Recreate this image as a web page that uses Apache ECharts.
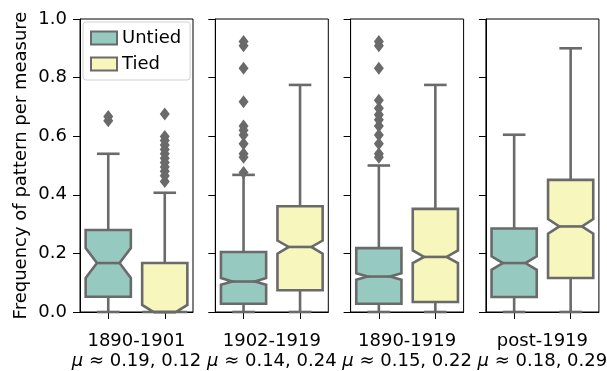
<!DOCTYPE html>
<html>
<head>
<meta charset="utf-8">
<script src="https://cdn.jsdelivr.net/npm/echarts@6/dist/echarts.min.js"></script>
<style>
  html, body { margin: 0; padding: 0; background: #fff; }
  #chart { width: 607px; height: 371px; }
</style>
</head>
<body>
<div id="chart"></div>
<script>
// Periods shown in each panel and the mean frequencies quoted below them
const periods = ['1890-1901', '1902-1919', '1890-1919', 'post-1919'];
const groups = ['Untied', 'Tied'];
const muUntied = ['0.19', '0.14', '0.15', '0.18'];
const muTied = ['0.12', '0.24', '0.22', '0.29'];

// Box statistics per period:
// [lower whisker, Q1, notch low, median, notch high, Q3, upper whisker]
const untiedStats = [
  [0, 0.052, 0.116, 0.167, 0.218, 0.280, 0.540],
  [0, 0.028, 0.093, 0.104, 0.116, 0.205, 0.468],
  [0, 0.028, 0.110, 0.121, 0.132, 0.218, 0.500],
  [0, 0.051, 0.144, 0.167, 0.190, 0.285, 0.605]
];
const tiedStats = [
  [0, 0.000, -0.024, 0.000, 0.024, 0.167, 0.407],
  [0, 0.074, 0.199, 0.222, 0.244, 0.361, 0.775],
  [0, 0.034, 0.167, 0.188, 0.210, 0.352, 0.775],
  [0, 0.116, 0.267, 0.292, 0.317, 0.451, 0.900]
];

// Outlying measures beyond the whiskers
const untiedOutliers = [
  [0.667, 0.653],
  [0.923, 0.909, 0.832, 0.718, 0.635, 0.620, 0.604, 0.574, 0.540, 0.528, 0.476],
  [0.923, 0.909, 0.832, 0.723, 0.695, 0.673, 0.656, 0.635, 0.604, 0.574, 0.540, 0.528],
  []
];
const tiedOutliers = [
  [0.676, 0.599, 0.585, 0.570, 0.555, 0.540, 0.525, 0.510, 0.495, 0.480, 0.465, 0.445],
  [],
  [],
  []
];

const yTicks = [0, 0.2, 0.4, 0.6, 0.8, 1.0];

const COLOR_UNTIED = '#96cac1';
const COLOR_TIED = '#f6f6bd';
const GRAY = '#6a6a6a';
const LW = 2.6;
const FONT = 'DejaVu Sans';

const PANEL_LEFT = 80, PANEL_STEP = 135.3, PANEL_W = 113, PANEL_TOP = 19, PANEL_H = 293;

// Notched box drawn in data space through the axis scales
function makeRenderer(fill) {
  return function (params, api) {
    const cat = api.value(0);
    const wLo = api.value(1), q1 = api.value(2), nLo = api.value(3), med = api.value(4),
          nHi = api.value(5), q3 = api.value(6), wHi = api.value(7);
    const bw = api.size([1, 0])[0] * 0.8;
    const cx = api.coord([cat, 0])[0];
    const y = v => api.coord([cat, Math.max(v, 0)])[1];
    const l = cx - bw / 2, r = cx + bw / 2, ins = bw * 0.25, cap = bw / 4;
    const ls = { stroke: GRAY, lineWidth: LW };
    return {
      type: 'group',
      children: [
        { type: 'line', shape: { x1: cx, y1: y(q3), x2: cx, y2: y(wHi) }, style: ls },
        { type: 'line', shape: { x1: cx, y1: y(q1), x2: cx, y2: y(wLo) }, style: ls },
        { type: 'line', shape: { x1: cx - cap, y1: y(wHi), x2: cx + cap, y2: y(wHi) }, style: ls },
        { type: 'line', shape: { x1: cx - cap, y1: y(wLo), x2: cx + cap, y2: y(wLo) }, style: ls },
        {
          type: 'polygon',
          shape: {
            points: [
              [l, y(q3)], [r, y(q3)], [r, y(nHi)], [r - ins, y(med)], [r, y(nLo)],
              [r, y(q1)], [l, y(q1)], [l, y(nLo)], [l + ins, y(med)], [l, y(nHi)]
            ]
          },
          style: { fill: fill, stroke: GRAY, lineWidth: LW, lineJoin: 'miter' }
        },
        { type: 'line', shape: { x1: l + ins, y1: y(med), x2: r - ins, y2: y(med) }, style: ls }
      ]
    };
  };
}

const grids = [], xAxes = [], yAxes = [], series = [];

periods.forEach((p, i) => {
  grids.push({
    left: PANEL_LEFT + i * PANEL_STEP, top: PANEL_TOP, width: PANEL_W, height: PANEL_H,
    containLabel: false, outerBoundsMode: 'none',
    show: true, borderColor: '#000', borderWidth: 1, backgroundColor: 'transparent'
  });
  xAxes.push({
    gridIndex: i, type: 'category', data: groups, boundaryGap: true,
    axisLine: { show: true, lineStyle: { color: '#000', width: 1 } },
    axisTick: { show: true, alignWithLabel: true, interval: 0, length: 7, lineStyle: { color: '#000', width: 1 } },
    axisLabel: { show: false },
    splitLine: { show: false },
    name: p + '\n{mu|μ} ≈ ' + muUntied[i] + ', ' + muTied[i],
    nameLocation: 'middle', nameGap: 19,
    nameTextStyle: {
      fontSize: 18, color: '#000', fontFamily: FONT, lineHeight: 20,
      rich: { mu: { fontStyle: 'italic', fontSize: 18, color: '#000', fontFamily: FONT, lineHeight: 20 } }
    }
  });
  yAxes.push({
    gridIndex: i, type: 'value', min: yTicks[0], max: yTicks[yTicks.length - 1], interval: 0.2,
    axisLine: { show: true, lineStyle: { color: '#000', width: 1 } },
    axisTick: { show: true, length: 7, lineStyle: { color: '#000', width: 1 } },
    axisLabel: { show: i === 0, fontSize: 18, color: '#000', fontFamily: FONT, margin: 13,
                 formatter: v => v.toFixed(1) },
    splitLine: { show: false },
    name: i === 0 ? 'Frequency of pattern per measure' : '',
    nameLocation: 'middle', nameGap: 50,
    nameTextStyle: { fontSize: 18, color: '#000', fontFamily: FONT }
  });

  series.push({
    name: 'Untied', type: 'custom', xAxisIndex: i, yAxisIndex: i,
    renderItem: makeRenderer(COLOR_UNTIED),
    encode: { x: 0, y: [1, 2, 3, 4, 5, 6, 7] },
    itemStyle: { color: COLOR_UNTIED },
    data: [[0].concat(untiedStats[i])], z: 2
  });
  series.push({
    name: 'Tied', type: 'custom', xAxisIndex: i, yAxisIndex: i,
    renderItem: makeRenderer(COLOR_TIED),
    encode: { x: 0, y: [1, 2, 3, 4, 5, 6, 7] },
    itemStyle: { color: COLOR_TIED },
    data: [[1].concat(tiedStats[i])], z: 2
  });
  series.push({
    name: 'outliers-' + i, type: 'scatter', xAxisIndex: i, yAxisIndex: i,
    symbol: 'diamond', symbolSize: [10, 13],
    itemStyle: { color: GRAY, opacity: 1 },
    data: untiedOutliers[i].map(v => [0, v]).concat(tiedOutliers[i].map(v => [1, v])),
    z: 3, silent: true
  });
});

const chart = echarts.init(document.getElementById('chart'), null, { renderer: 'canvas' });
chart.setOption({
  animation: false,
  textStyle: { fontFamily: FONT },
  grid: grids,
  xAxis: xAxes,
  yAxis: yAxes,
  legend: {
    left: 83, top: 22, orient: 'vertical',
    padding: [7, 9, 7, 7], itemGap: 8, itemWidth: 26, itemHeight: 13,
    backgroundColor: '#fff', borderColor: '#d0d0d0', borderWidth: 1, borderRadius: 3,
    selectedMode: false,
    textStyle: { fontSize: 18, color: '#000', fontFamily: FONT },
    data: [
      { name: 'Untied', icon: 'rect', itemStyle: { color: COLOR_UNTIED, borderColor: GRAY, borderWidth: 2 } },
      { name: 'Tied', icon: 'rect', itemStyle: { color: COLOR_TIED, borderColor: GRAY, borderWidth: 2 } }
    ],
    z: 10
  },
  series: series
});
</script>
</body>
</html>
